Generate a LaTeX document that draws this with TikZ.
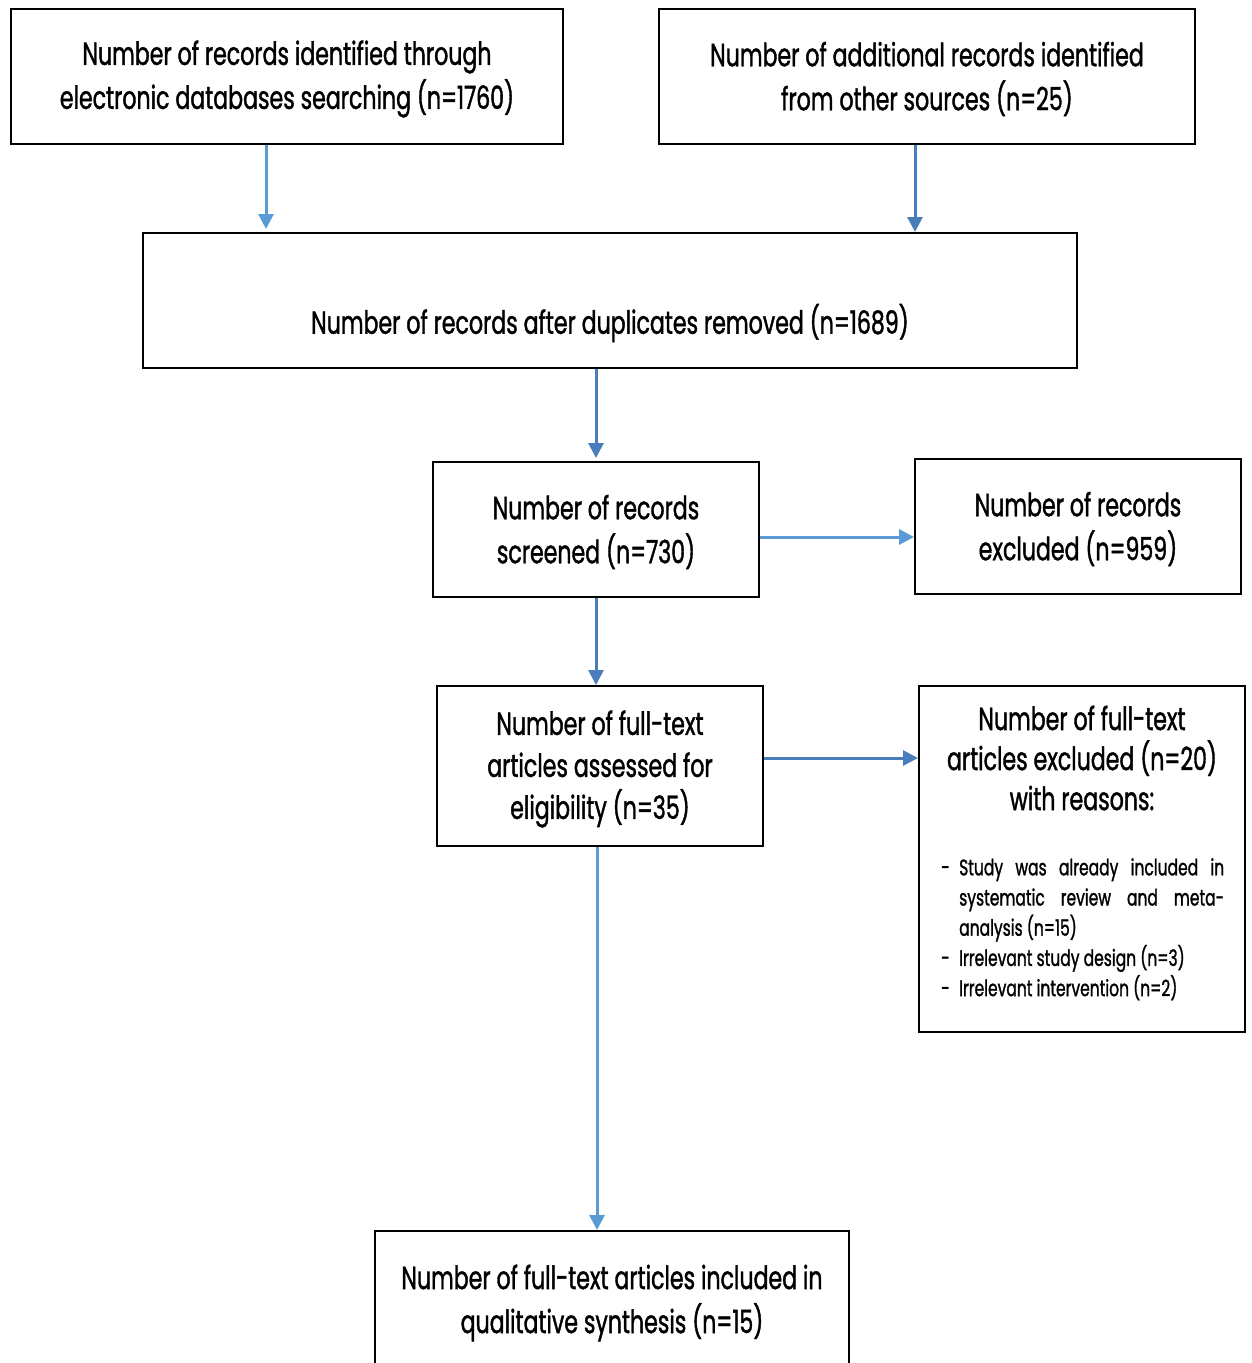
\documentclass[tikz,border=0pt]{standalone}
\usepackage{fontspec}
\setmainfont{Poppins}[FakeStretch=0.69,FakeBold=1.2]
\usetikzlibrary{arrows.meta}
\definecolor{lblue}{HTML}{5B9BD5}
\definecolor{dblue}{HTML}{4A7EBB}
\tikzset{
  box/.style={draw=black, line width=2pt, inner sep=0pt},
  big/.style={align=center, font=\fontsize{32}{44}\selectfont, inner sep=0pt},
  arrL/.style={draw=lblue, line width=3pt, -{Triangle[width=15pt,length=15pt]}},
  arrD/.style={draw=dblue, line width=3pt, -{Triangle[width=15pt,length=15pt]}}
}
\begin{document}
\begin{tikzpicture}[x=1pt,y=-1pt]
\path[use as bounding box] (0,0) rectangle (1251,1363);
\clip (0,0) rectangle (1251,1363);
% boxes
\node[box, minimum width=552pt, minimum height=135pt] (b1) at (287,76.5) {};
\node[box, minimum width=536pt, minimum height=135pt] (b2) at (927,76.5) {};
\node[box, minimum width=934pt, minimum height=135pt] (b3) at (610,300.5) {};
\node[box, minimum width=326pt, minimum height=135pt] (b4) at (596,529.5) {};
\node[box, minimum width=326pt, minimum height=135pt] (b5) at (1078,526.5) {};
\node[box, minimum width=326pt, minimum height=160pt] (b6) at (600,766) {};
\node[box, minimum width=326pt, minimum height=346pt] (b7) at (1082,859) {};
\node[box, minimum width=474pt, minimum height=180pt] (b8) at (612,1321) {};
% texts
\node[big] (t1) at (287,79) {Number of records identified through\\electronic databases searching (n=1760)};
\node[big] (t2) at (927,79) {Number of additional records identified\\from other sources (n=25)};
\node[big] (t3) at (610,323) {Number of records after duplicates removed (n=1689)};
\node[big] (t4) at (596,532) {Number of records\\screened (n=730)};
\node[big] (t5) at (1078,529) {Number of records\\excluded (n=959)};
\node[big, font=\fontsize{32}{42}\selectfont] (t6) at (600,769) {Number of full-text\\articles assessed for\\eligibility (n=35)};
\node[big, font=\fontsize{32}{40}\selectfont] (t7) at (1082,758) {Number of full-text\\articles excluded (n=20)\\with reasons:};
\node[inner sep=0pt, anchor=north west, text width=283pt, align=justify, font=\fontsize{22.5}{30.2}\selectfont] (t7l) at (941,858) {%
\setlength{\parindent}{0pt}\hyphenpenalty=10000 \hangindent=18pt\hangafter=1 \makebox[18pt][l]{-}Study was already included in systematic review and meta-analysis (n=15)\par
\hangindent=18pt\hangafter=1 \makebox[18pt][l]{-}Irrelevant study design (n=3)\par
\hangindent=18pt\hangafter=1 \makebox[18pt][l]{-}Irrelevant intervention (n=2)\par};
\node[big] (t8) at (612,1303) {Number of full-text articles included in\\qualitative synthesis (n=15)};
% connectors
\draw[arrL, shorten >=3pt] ([xshift=-21pt]b1.south) -- ([xshift=-21pt]b1.south |- b3.north);
\draw[arrD] ([xshift=-12pt]b2.south) -- ([xshift=-12pt]b2.south |- b3.north);
\draw[arrD, shorten >=3pt] (b4.north |- b3.south) -- (b4.north);
\draw[arrL] ([yshift=-7.5pt]b4.east) -- ([yshift=-7.5pt]b4.east -| b5.west);
\draw[arrD] (b4.south) -- (b4.south |- b6.north);
\draw[arrD] ([yshift=8pt]b6.east) -- ([yshift=8pt]b6.east -| b7.west);
\draw[arrL] ([xshift=-3pt]b6.south) -- ([xshift=-3pt]b6.south |- b8.north);
\end{tikzpicture}
\end{document}
